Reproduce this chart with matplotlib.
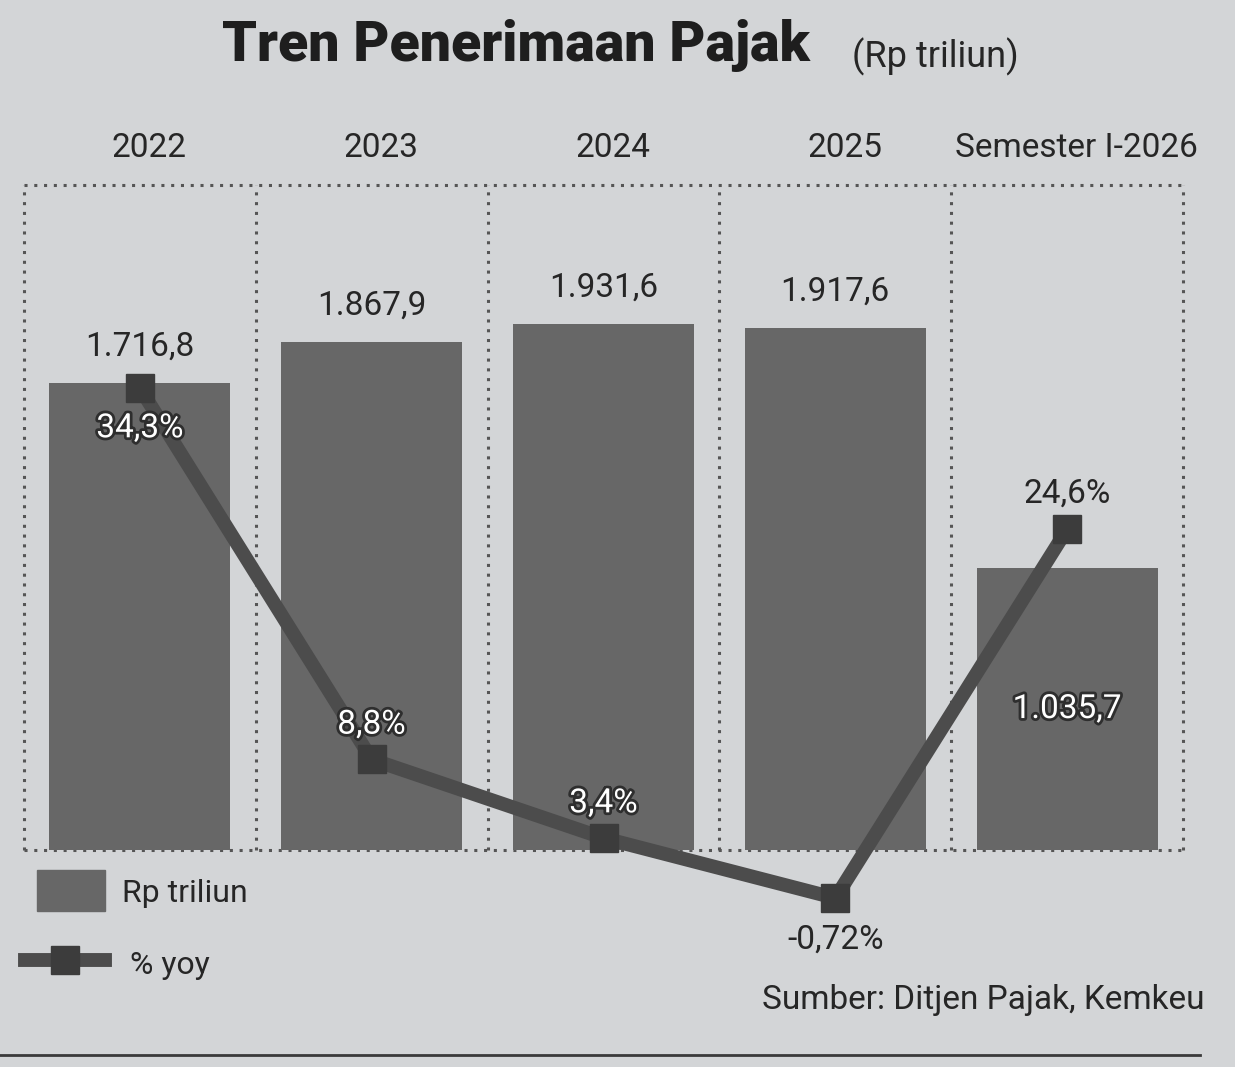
import matplotlib
matplotlib.use("Agg")
import matplotlib.pyplot as plt
import matplotlib.patheffects as pe
from matplotlib.patches import Rectangle
from matplotlib.lines import Line2D

# ---- data ----
years = ["2022", "2023", "2024", "2025", "Semester I-2026"]
values = [1716.8, 1867.9, 1931.6, 1917.6, 1035.7]
value_labels = ["1.716,8", "1.867,9", "1.931,6", "1.917,6", "1.035,7"]
yoy = [34.3, 8.8, 3.4, -0.72, 24.6]
yoy_labels = ["34,3%", "8,8%", "3,4%", "-0,72%", "24,6%"]

# ---- style ----
BG = "#d3d5d7"
BAR = "#676767"
LINE = "#4c4c4c"
MARK = "#3c3c3c"
TXT = "#262626"
FONT = ["Roboto", "DejaVu Sans"]
plt.rcParams["font.family"] = FONT

W, H = 1235, 1067
fig = plt.figure(figsize=(W / 100, H / 100), dpi=100, facecolor=BG)

# axes: x=-0.5 at px 24, x=4.5 at px 1183 ; y bottom px 850, top px 185
ax = fig.add_axes([24 / W, (H - 850) / H, 1159 / W, 665 / H])
ax.set_facecolor("none")
ax.set_xlim(-0.5, 4.5)
ax.set_ylim(0, 2443)
ax.axis("off")

x = list(range(len(years)))

# dotted frame and column dividers
dot = dict(color="#555555", linestyle=(0, (1, 2.2)), linewidth=2.2, zorder=1)
for i in range(len(years) + 1):
    ax.plot([i - 0.5, i - 0.5], [0, 2443], clip_on=False, **dot)
ax.plot([-0.5, 4.5], [2443, 2443], clip_on=False, **dot)
ax.plot([-0.5, 4.5], [0, 0], clip_on=False, **dot)

bars = ax.bar(x, values, width=0.78, color=BAR, zorder=2)

# secondary axis for % yoy
ax2 = ax.twinx()
ax2.set_ylim(2.58, 48.24)
ax2.axis("off")
ax2.plot(x, yoy, color=LINE, linewidth=10, solid_joinstyle="miter",
         zorder=3, clip_on=False)
ax2.plot(x, yoy, linestyle="none", marker="s", markersize=20,
         color=MARK, zorder=4, clip_on=False)

outline = [pe.withStroke(linewidth=4, foreground="#2e2e2e")]

# bar value labels
for i, (v, lab) in enumerate(zip(values, value_labels)):
    if i < 4:
        ax.annotate(lab, xy=(i, v), xytext=(0, 26), textcoords="offset points",
                    ha="center", va="center", fontsize=24, color=TXT, zorder=6)
    else:
        ax.annotate(lab, xy=(i, v * 0.5), ha="center", va="center",
                    fontsize=24, color="white", path_effects=outline, zorder=6)

# yoy labels
yoy_offsets = [-29, 25, 25, -30, 26]
yoy_white = [True, True, True, False, False]
for i, (v, lab) in enumerate(zip(yoy, yoy_labels)):
    kw = dict(color="white", path_effects=outline) if yoy_white[i] else dict(color=TXT)
    ax2.annotate(lab, xy=(i, v), xytext=(0, yoy_offsets[i]),
                 textcoords="offset points", ha="center", va="center",
                 fontsize=24, zorder=7, annotation_clip=False, **kw)

# year labels above columns
for i, yr in enumerate(years):
    ax.annotate(yr, xy=(i + 0.04, 1), xycoords=("data", "axes fraction"),
                xytext=(0, 27), textcoords="offset points",
                ha="center", va="center", fontsize=24, color=TXT)

# title
fig.text(222 / W, 1 - 45 / H, "Tren Penerimaan Pajak", fontsize=40,
         fontweight="heavy", color="#1e1e1e", ha="left", va="center")
fig.text(852 / W, 1 - 57 / H, "(Rp triliun)", fontsize=26, color=TXT,
         ha="left", va="center")

# legend
fig.patches.append(Rectangle((37 / W, 1 - 911 / H), 68 / W, 41 / H,
                             transform=fig.transFigure, color=BAR))
fig.text(122 / W, 1 - 893 / H, "Rp triliun", fontsize=23, color=TXT,
         ha="left", va="center")
fig.lines.append(Line2D([25 / W, 105 / W], [1 - 960 / H, 1 - 960 / H],
                        transform=fig.transFigure, color=LINE, linewidth=10))
fig.lines.append(Line2D([65 / W], [1 - 960 / H], transform=fig.transFigure,
                        marker="s", markersize=20, color=MARK, linestyle="none"))
fig.text(130 / W, 1 - 965 / H, "% yoy", fontsize=23, color=TXT,
         ha="left", va="center")

# source
fig.text(1205 / W, 1 - 1000 / H, "Sumber: Ditjen Pajak, Kemkeu", fontsize=24,
         color=TXT, ha="right", va="center")

# bottom rule
fig.lines.append(Line2D([0, 1200 / W], [1 - 1055 / H, 1 - 1055 / H],
                        transform=fig.transFigure, color="#3a3a3a", linewidth=2))

fig.savefig("out.png", dpi=100, facecolor=BG)
